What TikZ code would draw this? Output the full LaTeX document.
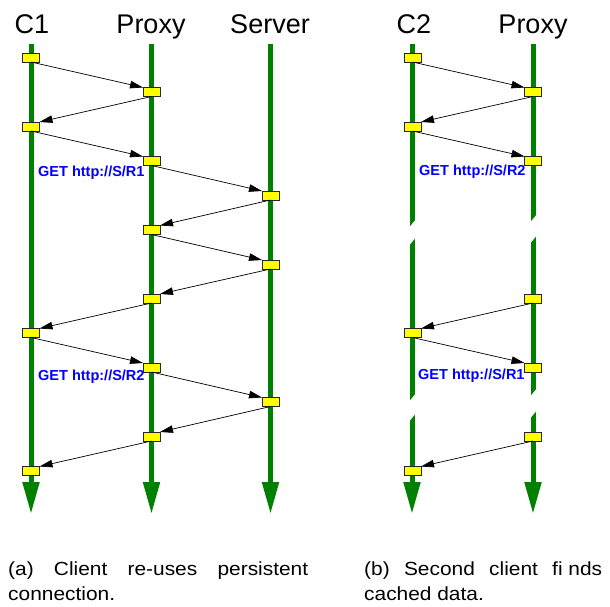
\documentclass[tikz,border=0pt]{standalone}
\usepackage{fontspec}
\setmainfont{Liberation Sans}
\newfontfamily\capfont[FakeStretch=1.1]{Liberation Sans}
\usetikzlibrary{arrows.meta}
\definecolor{lifegreen}{RGB}{0,128,0}
\definecolor{boxyellow}{RGB}{255,255,0}
\definecolor{labelblue}{RGB}{0,0,255}
\begin{document}
\begin{tikzpicture}[x=1pt,y=-1pt,
  lifeline/.style={draw=lifegreen, line width=5pt, -{Triangle[length=32pt,width=16pt]}},
  evt/.style={draw=black!85, fill=boxyellow, line width=0.9pt, minimum width=17pt, minimum height=9pt, inner sep=0pt, outer sep=0pt},
  msg/.style={draw=black, line width=0.7pt, -{Triangle[length=13pt,width=7.5pt]}},
  title/.style={font=\fontsize{27}{30}\selectfont, anchor=base, inner sep=0pt},
  getlbl/.style={font=\fontsize{14.5}{16}\selectfont\bfseries, text=labelblue, anchor=base west, inner sep=0pt},
  capt/.style={font=\capfont\fontsize{19}{22}\selectfont, anchor=base west, inner sep=0pt},
  gapcut/.style={fill=white}
]
\useasboundingbox (0,0) rectangle (610,606);

% titles
\node[title] (tC1) at (32,33) {C1};
\node[title] (tP1) at (151,33) {Proxy};
\node[title] (tS1) at (270,33) {Server};
\node[title] (tC2) at (414,33) {C2};
\node[title] (tP2) at (533,33) {Proxy};

% lifelines
\coordinate (C1t) at (31,44);   \coordinate (C1b) at (31,514);
\coordinate (P1t) at (151.5,44); \coordinate (P1b) at (151.5,514);
\coordinate (S1t) at (270.5,44); \coordinate (S1b) at (270.5,514);
\coordinate (C2t) at (412,44);  \coordinate (C2b) at (412,514);
\coordinate (P2t) at (533,44);  \coordinate (P2b) at (533,514);
\draw[lifeline] (C1t) -- (C1b);
\draw[lifeline] (P1t) -- (P1b);
\draw[lifeline] (S1t) -- (S1b);
\draw[lifeline] (C2t) -- (C2b);
\draw[lifeline] (P2t) -- (P2b);

% breaks in the right-hand lifelines
\fill[gapcut] (408,228.8) -- (416,219.2) -- (416,237.2) -- (408,246.8) -- cycle;
\fill[gapcut] (408,402.8) -- (416,393.2) -- (416,413.2) -- (408,422.8) -- cycle;
\fill[gapcut] (529,223.8) -- (537,214.2) -- (537,235.2) -- (529,244.8) -- cycle;
\fill[gapcut] (529,397.8) -- (537,388.2) -- (537,410.2) -- (529,419.8) -- cycle;

% event boxes (a)
\node[evt] (a0)  at (31,57.5) {};
\node[evt] (a1)  at (151.5,92) {};
\node[evt] (a2)  at (31,126.5) {};
\node[evt] (a3)  at (151.5,161) {};
\node[evt] (a4)  at (270.5,195.5) {};
\node[evt] (a5)  at (151.5,230) {};
\node[evt] (a6)  at (270.5,264.5) {};
\node[evt] (a7)  at (151.5,298.5) {};
\node[evt] (a8)  at (31,333) {};
\node[evt] (a9)  at (151.5,367.5) {};
\node[evt] (a10) at (270.5,402) {};
\node[evt] (a11) at (151.5,436.5) {};
\node[evt] (a12) at (31,471) {};

% event boxes (b)
\node[evt] (b0)  at (412.5,57.5) {};
\node[evt] (b1)  at (533,92) {};
\node[evt] (b2)  at (412.5,126.5) {};
\node[evt] (b3)  at (533,161) {};
\node[evt] (b7)  at (533,298.5) {};
\node[evt] (b8)  at (412.5,333) {};
\node[evt] (b9)  at (533,367.5) {};
\node[evt] (b11) at (533,436.5) {};
\node[evt] (b12) at (412.5,471) {};

% messages (a)
\draw[msg] (a0.south) -- (a1.north west);
\draw[msg] (a1.south) -- (a2.north east);
\draw[msg] (a2.south) -- (a3.north west);
\draw[msg] (a3.south) -- (a4.north west);
\draw[msg] (a4.south) -- (a5.north east);
\draw[msg] (a5.south) -- (a6.north west);
\draw[msg] (a6.south) -- (a7.north east);
\draw[msg] (a7.south) -- (a8.north east);
\draw[msg] (a8.south) -- (a9.north west);
\draw[msg] (a9.south) -- (a10.north west);
\draw[msg] (a10.south) -- (a11.north east);
\draw[msg] (a11.south) -- (a12.north east);

% messages (b)
\draw[msg] (b0.south) -- (b1.north west);
\draw[msg] (b1.south) -- (b2.north east);
\draw[msg] (b2.south) -- (b3.north west);
\draw[msg] (b7.south) -- (b8.north east);
\draw[msg] (b8.south) -- (b9.north west);
\draw[msg] (b11.south) -- (b12.north east);

% request labels
\node[getlbl] (g1) at (38,176) {GET http://S/R1};
\node[getlbl] (g2) at (38,380) {GET http://S/R2};
\node[getlbl] (g3) at (419,175) {GET http://S/R2};
\node[getlbl] (g4) at (418,379) {GET http://S/R1};

% captions
\node[capt] (ca1) at (8,575) {\hbox to 300pt{(a)\hfill Client\hfill re-uses\hfill persistent}};
\node[capt] (ca2) at (8,600) {connection.};
\node[capt] (cb1) at (364,575) {\hbox to 238pt{(b)\hfill Second\hfill client\hfill fi nds}};
\node[capt] (cb2) at (364,600) {cached data.};
\end{tikzpicture}
\end{document}
